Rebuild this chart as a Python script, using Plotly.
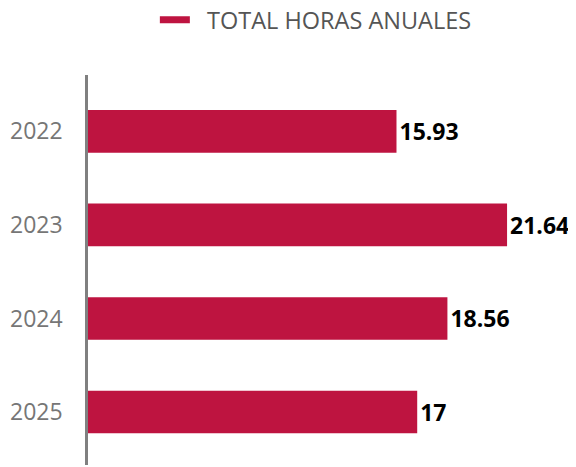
import plotly.graph_objects as go

years = ["2022", "2023", "2024", "2025"]
values = [15.93, 21.64, 18.56, 17]
labels = ["15.93", "21.64", "18.56", "17"]
series_name = "TOTAL HORAS ANUALES"

RED = "#BE1440"
FONT = "Open Sans, sans-serif"

fig = go.Figure()
fig.add_trace(go.Bar(
    y=years, x=values, orientation="h",
    marker=dict(color=RED, line=dict(width=0)),
    width=0.456,
    text=labels, textposition="outside",
    textfont=dict(family=FONT, size=23, color="#000000", weight="bold"),
    cliponaxis=False,
    showlegend=False,
))
fig.add_trace(go.Scatter(
    x=[None], y=[None], mode="lines",
    line=dict(color=RED, width=7),
    name="\u00a0\u00a0" + series_name, showlegend=True,
))

fig.update_layout(
    width=568, height=459,
    margin=dict(l=80, r=0, t=67, b=2, autoexpand=False),
    paper_bgcolor="white", plot_bgcolor="white",
    font=dict(family=FONT),
    legend=dict(
        orientation="h", xref="container", yref="paper",
        x=0.5420, xanchor="center", y=1.1974, yanchor="top",
        font=dict(family=FONT, size=23.5, color="#555555"),
        itemwidth=30,
    ),
    xaxis=dict(range=[0, 25.2], showgrid=False, zeroline=False,
               showticklabels=False, showline=False, fixedrange=True,
               automargin=False),
    yaxis=dict(
        type="category", categoryorder="array", categoryarray=years,
        range=[3.566, -0.602], automargin=False,
        showgrid=False, zeroline=False,
        showline=True, linecolor="#808080", linewidth=2.5,
        ticks="", ticklabelstandoff=18,
        tickfont=dict(family=FONT, size=23, color="#767676"),
    ),
)

fig.write_html("out.html")
